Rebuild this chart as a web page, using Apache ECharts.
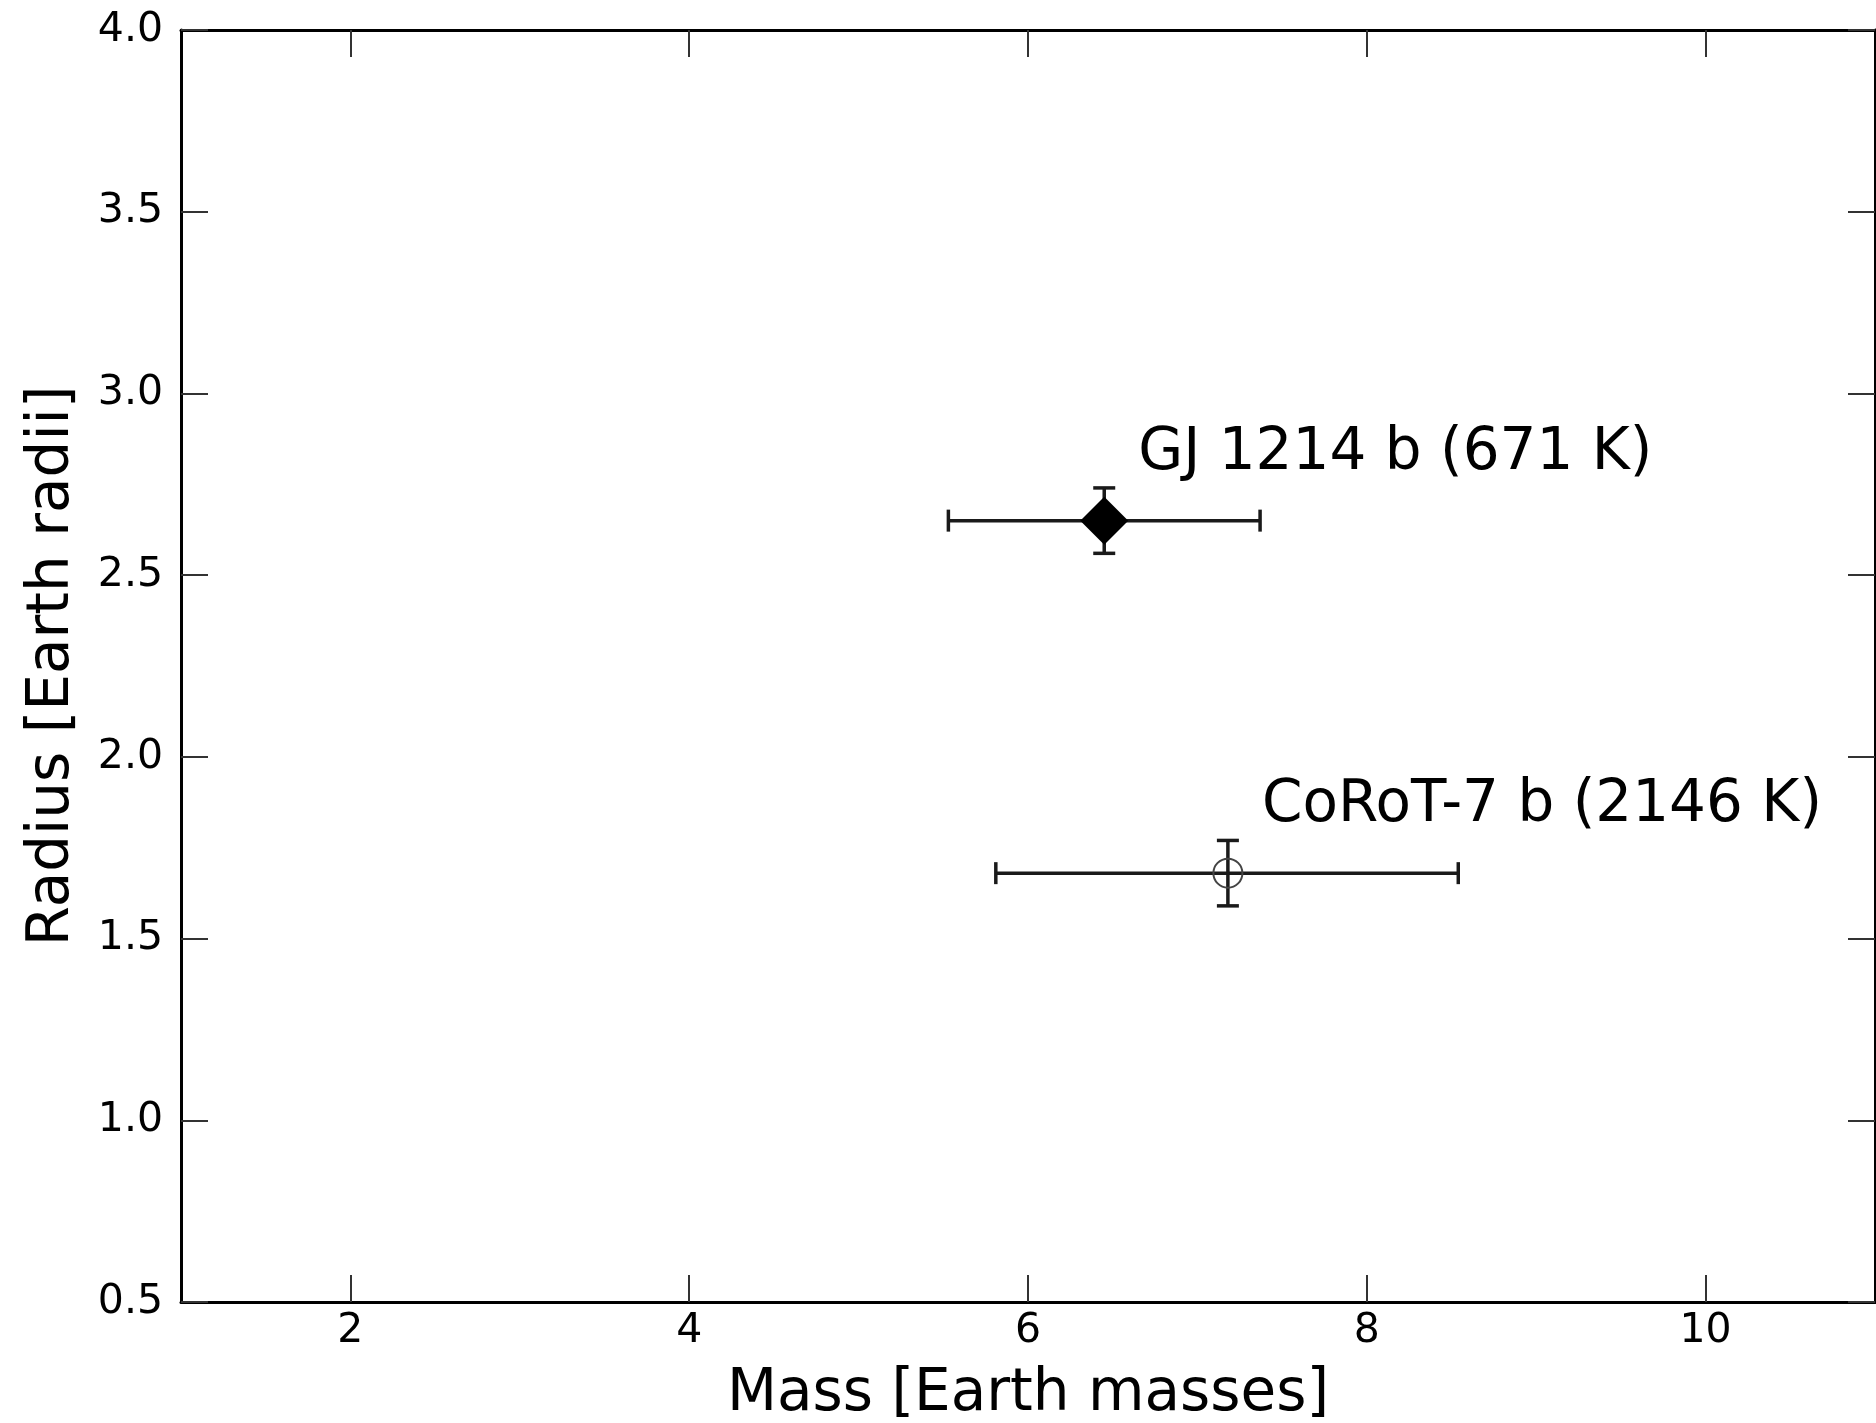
<!DOCTYPE html>
<html>
<head>
<meta charset="utf-8">
<title>Mass vs Radius</title>
<script src="https://cdn.jsdelivr.net/npm/echarts@6/dist/echarts.min.js"></script>
<style>
  html, body { margin: 0; padding: 0; background: #fff; }
  #chart { width: 1876px; height: 1423px; }
</style>
</head>
<body>
<div id="chart"></div>
<script>
// planets and their measured values
var planetNames = ["GJ 1214 b (671 K)", "CoRoT-7 b (2146 K)"];
var massValues = [6.45, 7.18];
var massLow = [5.53, 5.81];
var massHigh = [7.37, 8.54];
var radiusValues = [2.65, 1.68];
var radiusLow = [2.56, 1.59];
var radiusHigh = [2.74, 1.77];
// x tick labels
var massTicks = [2, 4, 6, 8, 10];

var chartDom = document.getElementById("chart");
var myChart = echarts.init(chartDom);

var FONT = "DejaVu Sans";

// one row per planet: x, y, xlo, xhi, ylo, yhi
var errorData = planetNames.map(function (n, i) {
  return [massValues[i], radiusValues[i], massLow[i], massHigh[i], radiusLow[i], radiusHigh[i]];
});

function renderErrorBar(params, api) {
  var c = api.coord([api.value(0), api.value(1)]);
  var xl = api.coord([api.value(2), api.value(1)]);
  var xh = api.coord([api.value(3), api.value(1)]);
  var yl = api.coord([api.value(0), api.value(4)]);
  var yh = api.coord([api.value(0), api.value(5)]);
  var cap = 11;
  var style = { stroke: "#1a1a1a", lineWidth: 3.5 };
  function seg(x1, y1, x2, y2) {
    return { type: "line", shape: { x1: x1, y1: y1, x2: x2, y2: y2 }, style: style };
  }
  return {
    type: "group",
    children: [
      seg(xl[0], c[1], xh[0], c[1]),
      seg(xl[0], c[1] - cap, xl[0], c[1] + cap),
      seg(xh[0], c[1] - cap, xh[0], c[1] + cap),
      seg(c[0], yl[1], c[0], yh[1]),
      seg(c[0] - cap, yl[1], c[0] + cap, yl[1]),
      seg(c[0] - cap, yh[1], c[0] + cap, yh[1])
    ]
  };
}

var axisLine = { show: true, lineStyle: { color: "#000", width: 3 } };
var tick = { show: true, inside: true, length: 27, lineStyle: { color: "#333", width: 2 } };

var option = {
  backgroundColor: "#fff",
  animation: false,
  grid: { left: 181, right: 1, top: 30, bottom: 121, outerBoundsMode: "none", containLabel: false },
  xAxis: [
    {
      type: "value",
      min: 1,
      max: 11,
      name: "Mass [Earth masses]",
      nameLocation: "middle",
      nameGap: 64,
      nameTextStyle: { fontFamily: FONT, fontSize: 58, color: "#000" },
      axisLine: axisLine,
      axisTick: Object.assign({ customValues: massTicks }, tick),
      axisLabel: {
        customValues: massTicks,
        fontFamily: FONT,
        fontSize: 41,
        color: "#000",
        margin: 9
      },
      splitLine: { show: false }
    },
    {
      type: "value",
      position: "top",
      min: 1,
      max: 11,
      axisLine: axisLine,
      axisTick: Object.assign({ customValues: massTicks }, tick),
      axisLabel: { show: false },
      splitLine: { show: false }
    }
  ],
  yAxis: [
    {
      type: "value",
      min: 0.5,
      max: 4,
      interval: 0.5,
      name: "Radius [Earth radii]",
      nameLocation: "middle",
      nameGap: 99,
      nameTextStyle: { fontFamily: FONT, fontSize: 58, color: "#000" },
      axisLine: axisLine,
      axisTick: tick,
      axisLabel: {
        fontFamily: FONT,
        fontSize: 41,
        color: "#000",
        margin: 18,
        formatter: function (v) { return v.toFixed(1); }
      },
      splitLine: { show: false }
    },
    {
      type: "value",
      position: "right",
      min: 0.5,
      max: 4,
      interval: 0.5,
      axisLine: axisLine,
      axisTick: tick,
      axisLabel: { show: false },
      splitLine: { show: false }
    }
  ],
  series: [
    {
      type: "custom",
      renderItem: renderErrorBar,
      data: errorData,
      z: 2
    },
    {
      type: "scatter",
      z: 3,
      itemStyle: { opacity: 1 },
      data: planetNames.map(function (n, i) {
        var filled = i === 0;
        return {
          name: n,
          value: [massValues[i], radiusValues[i]],
          symbol: filled ? "diamond" : "circle",
          symbolSize: filled ? 48 : 29,
          itemStyle: filled
            ? { color: "#000", opacity: 1 }
            : { color: "rgba(0,0,0,0)", borderColor: "#444", borderWidth: 2, opacity: 1 }
        };
      }),
      label: {
        show: true,
        position: "inside",
        align: "left",
        verticalAlign: "middle",
        offset: [34, -67],
        formatter: function (p) { return p.name; },
        fontFamily: FONT,
        fontSize: 58,
        color: "#000"
      }
    }
  ]
};

myChart.setOption(option);

window.addEventListener("resize", function () {
  myChart.resize();
});
</script>
</body>
</html>
